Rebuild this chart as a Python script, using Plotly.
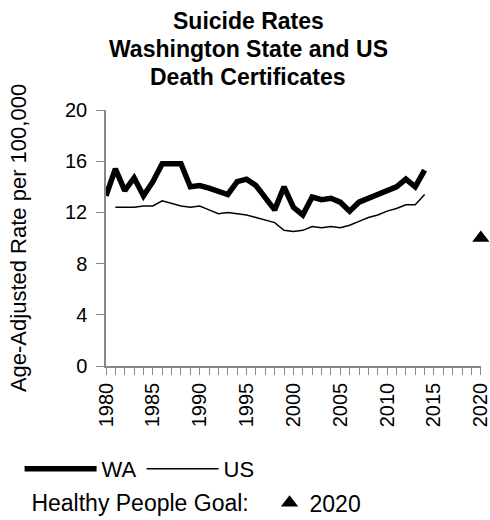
import plotly.graph_objects as go

YEARS = list(range(1980, 2015))
WA_RATE = [13.3, 15.4, 13.7, 14.7, 13.3, 14.4, 15.8, 15.8, 15.8, 14.0,
           14.1, 13.9, 13.6, 13.4, 14.4, 14.6, 14.1, 13.2, 12.2, 14.0,
           12.4, 11.8, 13.2, 13.0, 13.1, 12.8, 12.1, 12.8, 13.1, 13.4,
           13.8, 14.0, 14.6, 14.0, 15.3]
US_YEARS = list(range(1981, 2015))
US_RATE = [12.4, 12.4, 12.4, 12.5, 12.5, 12.9, 12.7, 12.5, 12.4,
           12.5, 12.2, 11.9, 12.0, 11.9, 11.8, 11.6, 11.4, 11.2, 10.6,
           10.5, 10.6, 10.9, 10.8, 10.9, 10.8, 11.0, 11.3, 11.6, 11.8,
           12.1, 12.3, 12.6, 12.6, 13.4]
GOAL_YEAR = [2020]
GOAL_RATE = [10.0]

TITLE_LINES = ["Suicide Rates", "Washington State and US", "Death Certificates"]

FONT = "Liberation Sans, Arial, sans-serif"
AXIS_GREY = "#888888"

fig = go.Figure()
fig.add_trace(go.Scatter(x=YEARS, y=WA_RATE, name="WA", mode="lines",
                         line=dict(color="black", width=5.5)))
fig.add_trace(go.Scatter(x=US_YEARS, y=US_RATE, name="US", mode="lines",
                         line=dict(color="black", width=1.5)))
fig.add_trace(go.Scatter(x=GOAL_YEAR, y=GOAL_RATE, name="2020", mode="markers",
                         marker=dict(symbol="triangle-up", size=15, color="black"),
                         legend="legend2", cliponaxis=False))

# title lines placed one by one to get the tight line spacing of the original
for i, line in enumerate(TITLE_LINES):
    fig.add_annotation(
        text=f"<b>{line}</b>", xref="paper", yref="paper",
        x=0.379, y=(366 - (21 + 28 * i)) / 256, xanchor="center", yanchor="middle",
        showarrow=False, font=dict(size=23),
    )

fig.update_layout(
    width=490, height=520,
    margin=dict(l=106, r=9, t=110, b=154),
    paper_bgcolor="white", plot_bgcolor="white",
    font=dict(family=FONT, size=20, color="black"),
    xaxis=dict(
        range=[1980, 2020.02], tickmode="linear", tick0=1980, dtick=5,
        tickangle=-90, ticks="outside", ticklen=7, tickcolor=AXIS_GREY,
        showline=True, linecolor=AXIS_GREY, linewidth=1.5, showgrid=False,
        zeroline=False, automargin=False, ticklabeloverflow="allow",
        minor=dict(dtick=1, ticks="outside", ticklen=7, tickcolor=AXIS_GREY),
        tickfont=dict(size=20),
    ),
    yaxis=dict(
        range=[0, 20], tickmode="linear", tick0=0, dtick=4,
        ticks="outside", ticklen=8, tickcolor=AXIS_GREY, ticklabelstandoff=5,
        showline=True, linecolor=AXIS_GREY, linewidth=1.5, showgrid=False,
        zeroline=False, automargin=False, tickfont=dict(size=20),
        title=dict(text="Age-Adjusted Rate per 100,000", font=dict(size=22), standoff=32),
    ),
    legend=dict(orientation="h", xref="container", yref="container",
                x=0.04, y=0.098, xanchor="left", yanchor="middle",
                itemwidth=72, font=dict(size=22), bgcolor="rgba(0,0,0,0)"),
    legend2=dict(orientation="h", xref="container", yref="container",
                 x=0.06, y=0.033, xanchor="left", yanchor="middle",
                 font=dict(size=23), bgcolor="rgba(0,0,0,0)",
                 title=dict(text="Healthy People Goal:&nbsp;&nbsp;", side="left",
                            font=dict(size=23))),
)

fig.write_html("out.html", config={"displayModeBar": False},
               post_script="document.body.style.margin = '0';")
